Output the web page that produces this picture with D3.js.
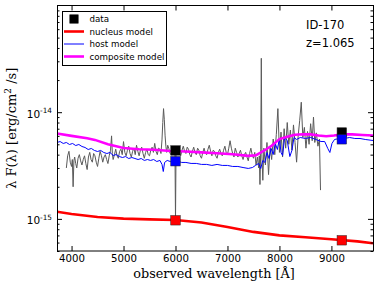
<!DOCTYPE html>
<html><head><meta charset="utf-8">
<script src="https://cdn.jsdelivr.net/npm/d3@7"></script>
<style>body{margin:0;background:#fff} svg{display:block}</style>
</head><body><svg id="c" width="383" height="287"></svg>
<script>
// all fluxes in units of 1e-15 erg/cm^2/s
const UNIT = 1e-15;
const xTicks = [4000, 5000, 6000, 7000, 8000, 9000];
const yMajor = [1e-15, 1e-14];
const yMajorExp = ["-15", "-14"];

// observed spectrum (gray)
const specWave = [3900,3925,3950,3975,4000,4015,4030,4045,4060,4080,4100,4125,4150,4175,4200,4225,4250,4275,4300,4325,4350,4375,4400,4425,4450,4475,4500,4525,4550,4575,4600,4625,4650,4675,4700,4725,4750,4770,4785,4800,4825,4850,4875,4900,4925,4950,4975,5000,5025,5050,5075,5100,5125,5150,5175,5200,5225,5250,5275,5300,5325,5350,5375,5400,5425,5450,5475,5500,5525,5550,5575,5600,5625,5650,5675,5700,5720,5740,5755,5770,5785,5800,5815,5830,5850,5870,5895,5920,5940,5960,5975,5990,6000,6010,6030,6050,6075,6100,6125,6150,6175,6200,6225,6250,6275,6300,6325,6350,6375,6400,6425,6450,6475,6500,6525,6550,6575,6600,6625,6650,6675,6700,6725,6750,6775,6800,6825,6850,6875,6900,6925,6950,6975,7000,7025,7050,7075,7100,7125,7150,7175,7200,7225,7250,7275,7300,7325,7350,7375,7400,7425,7450,7475,7500,7525,7550,7575,7600,7612,7625,7640,7651,7662,7680,7700,7730,7760,7790,7820,7850,7880,7910,7940,7970,8000,8030,8060,8090,8120,8150,8180,8210,8240,8270,8300,8330,8360,8390,8420,8450,8480,8510,8540,8570,8600,8630,8655,8680,8710,8740,8770,8790];
const specFlux = [3.0,3.9,4.3,3.4,3.1,3.6,2.0,3.5,3.8,3.3,3.0,3.7,4.0,3.5,3.2,3.6,3.9,3.3,2.9,3.8,4.2,3.6,3.4,4.1,3.9,3.4,3.1,3.7,4.3,3.9,3.4,3.8,4.0,3.6,3.3,3.9,4.4,6.0,4.1,3.6,4.0,4.5,3.9,3.7,4.3,4.5,4.0,5.3,4.2,3.9,4.4,4.8,4.1,3.8,4.3,4.6,4.0,4.9,4.3,3.9,4.4,4.7,4.1,3.7,4.2,4.5,4.0,3.9,4.4,4.7,4.2,5.1,4.3,4.0,4.6,4.5,4.1,5.5,8.0,10.8,8.5,6.0,4.8,4.2,4.9,4.6,4.1,4.0,4.7,4.5,4.0,4.2,0.98,4.3,4.8,4.6,4.2,3.9,4.4,4.8,4.3,4.1,4.7,4.5,4.0,3.8,4.3,4.7,4.2,4.0,4.6,4.4,3.9,3.7,4.2,4.6,4.1,4.0,4.5,4.9,4.3,3.9,4.4,4.3,3.9,3.7,4.2,4.5,4.1,3.9,4.4,4.8,4.2,4.0,4.6,5.4,4.6,4.1,3.8,4.6,4.2,3.8,4.1,4.4,3.9,3.6,4.0,4.2,3.8,3.5,4.1,4.6,4.0,3.7,4.2,3.2,3.8,3.0,3.9,2.1,4.5,32.0,4.0,2.3,4.6,3.2,5.2,2.6,4.8,3.6,5.6,4.0,6.2,10.8,4.2,6.5,3.8,7.0,4.6,8.0,5.0,6.8,4.4,7.6,5.2,3.4,6.0,8.4,12.4,5.8,7.2,4.6,6.6,5.0,7.8,5.4,9.0,5.2,6.4,4.8,5.6,1.86];

// host model (blue)
const hostWave = [3720,3780,3840,3900,3960,4020,4080,4140,4200,4260,4320,4380,4440,4500,4560,4620,4680,4740,4800,4860,4920,4980,5040,5100,5160,5220,5280,5340,5400,5460,5520,5580,5640,5700,5740,5765,5790,5840,5900,5960,6000,6060,6120,6200,6300,6400,6500,6600,6700,6800,6900,7000,7100,7200,7300,7400,7480,7540,7600,7640,7680,7720,7760,7800,7840,7880,7920,7960,8000,8030,8060,8100,8150,8200,8240,8280,8330,8400,8500,8600,8700,8800,8870,8930,8970,9010,9060,9150,9250,9350,9450,9550,9650,9800];
const hostFlux = [5.20,5.31,5.09,5.20,4.98,5.09,4.87,4.98,4.77,4.67,4.47,4.57,4.38,4.28,4.38,4.19,4.10,4.19,3.93,4.01,3.84,3.76,3.84,3.68,3.76,3.68,3.60,3.68,3.53,3.60,3.53,3.60,3.45,3.53,3.24,2.78,3.38,3.53,3.45,3.53,3.45,3.45,3.38,3.38,3.31,3.31,3.24,3.24,3.17,3.24,3.17,3.17,3.10,3.10,3.03,2.97,3.03,3.17,3.31,2.97,3.53,3.38,4.19,3.68,4.57,4.01,5.09,4.47,5.67,4.19,3.93,5.79,5.43,3.84,4.38,5.79,5.55,5.79,5.67,5.79,5.55,5.31,5.31,4.57,4.19,5.09,5.55,5.67,5.67,5.79,5.67,5.67,5.55,5.43];

// nucleus model (red)
const nucWave = [3720,4000,4500,5000,5500,6000,6500,7000,7500,8000,8500,9000,9500,9800];
const nucFlux = [1.165,1.11,1.04,1.005,0.99,0.975,0.925,0.84,0.755,0.70,0.672,0.645,0.615,0.59];

// composite model (magenta)
const compWave = [3720,4000,4300,4450,4700,5000,5300,5600,5900,6200,6500,6800,7100,7400,7550,7700,7850,8000,8150,8300,8450,8600,8750,8900,9050,9200,9400,9600,9800];
const compFlux = [6.31,6.0,5.7,5.5,5.0,4.62,4.5,4.45,4.33,4.28,4.2,4.12,4.03,3.9,3.95,4.35,4.85,5.6,5.9,6.15,6.22,6.2,6.05,5.95,6.05,6.2,6.2,6.12,6.05];

// photometric points
const photWave = [6000, 9200];
const dataPhot = [4.38, 6.45];
const hostPhot = [3.47, 5.57];
const nucPhot = [0.97, 0.63];

const legendItems = ["data", "nucleus model", "host model", "composite model"];
const idLabel = "ID-170";
const zLabel = "z=1.065";

const svg = d3.select("#c");
const L = 57, R = 373, T = 5.5, B = 251;
const x = d3.scaleLinear().domain([3720, 9800]).range([L, R]);
const y = d3.scaleLog().domain([5e-16, 1e-13]).range([B, T]);

svg.append("defs").append("clipPath").attr("id", "clip")
  .append("rect").attr("x", L).attr("y", T).attr("width", R - L).attr("height", B - T);

const plot = svg.append("g").attr("clip-path", "url(#clip)");
const line = d3.line().x(d => x(d[0])).y(d => y(d[1] * UNIT));
const zip = (a, b) => a.map((v, i) => [v, b[i]]);

plot.append("path").datum(zip(specWave, specFlux)).attr("d", line)
  .attr("fill", "none").attr("stroke", "#5a5a5a").attr("stroke-width", 1);
plot.append("path").datum(zip(hostWave, hostFlux)).attr("d", line)
  .attr("fill", "none").attr("stroke", "#0000ff").attr("stroke-width", 1);
plot.append("path").datum(zip(nucWave, nucFlux)).attr("d", line)
  .attr("fill", "none").attr("stroke", "#ff0000").attr("stroke-width", 2.6);
plot.append("path").datum(zip(compWave, compFlux)).attr("d", line)
  .attr("fill", "none").attr("stroke", "#ff00ff").attr("stroke-width", 2.6);

const SQ = 9.5;
function squares(vals, fill) {
  plot.selectAll(null).data(zip(photWave, vals)).enter().append("rect")
    .attr("x", d => x(d[0]) - SQ / 2).attr("y", d => y(d[1] * UNIT) - SQ / 2)
    .attr("width", SQ).attr("height", SQ)
    .attr("fill", fill).attr("stroke", "#222").attr("stroke-width", 0.5);
}
squares(dataPhot, "#000000");
squares(nucPhot, "#ff0000");
squares(hostPhot, "#0000ff");

// axes
const minor = [];
[-16, -15, -14].forEach(e => { for (let k = 2; k <= 9; k++) { const v = k * Math.pow(10, e); if (v >= 5e-16 && v < 1e-13) minor.push(v); } });

function xAxis(gen, ty) {
  svg.append("g").attr("transform", `translate(0,${ty})`)
    .call(gen(x).tickValues(xTicks).tickSize(-5).tickPadding(4).tickFormat(ty === B ? d3.format("d") : ""))
    .call(g => g.select(".domain").remove())
    .call(g => g.selectAll("line").attr("stroke", "#000"))
    .call(g => g.selectAll("text").attr("font-family", "DejaVu Sans").attr("font-size", 10.2).attr("fill", "#000"));
}
xAxis(d3.axisBottom, B);
xAxis(d3.axisTop, T);

function yAxis(gen, tx) {
  const g1 = svg.append("g").attr("transform", `translate(${tx},0)`)
    .call(gen(y).tickValues(yMajor).tickSize(-5).tickFormat(""));
  g1.select(".domain").remove();
  const g2 = svg.append("g").attr("transform", `translate(${tx},0)`)
    .call(gen(y).tickValues(minor).tickSize(-2.5).tickFormat(""));
  g2.select(".domain").remove();
}
yAxis(d3.axisLeft, L);
yAxis(d3.axisRight, R);

// y tick labels with superscripts
yMajor.forEach((v, i) => {
  const t = svg.append("text").attr("x", L - 5).attr("y", y(v) + 5.5)
    .attr("text-anchor", "end").attr("font-family", "DejaVu Sans").attr("font-size", 10.5);
  t.append("tspan").text("10");
  t.append("tspan").attr("font-size", 7.3).attr("dy", -4.5).text(yMajorExp[i]);
});

// frame
svg.append("rect").attr("x", L + 0.5).attr("y", T).attr("width", R - L).attr("height", B - T)
  .attr("fill", "none").attr("stroke", "#000").attr("stroke-width", 1);

// axis labels
svg.append("text").attr("x", (L + R) / 2 - 1).attr("y", 278).attr("text-anchor", "middle")
  .attr("font-family", "DejaVu Serif").attr("font-size", 12.8).text("observed wavelength [Å]");

const yl = svg.append("text").attr("transform", `translate(16,${(T + B) / 2}) rotate(-90)`)
  .attr("text-anchor", "middle").attr("font-family", "DejaVu Serif").attr("font-size", 13);
yl.append("tspan").text("λ F(λ) [erg/cm");
yl.append("tspan").attr("font-size", 9).attr("dy", -5.5).text("2");
yl.append("tspan").attr("dy", 5.5).text(" /s]");

// annotation
svg.append("text").attr("x", 306).attr("y", 28.5).attr("font-family", "DejaVu Sans").attr("font-size", 11.5).text(idLabel);
svg.append("text").attr("x", 306).attr("y", 47).attr("font-family", "DejaVu Sans").attr("font-size", 11.5).text(zLabel);

// legend
const lg = svg.append("g");
lg.append("rect").attr("x", 62.5).attr("y", 11.5).attr("width", 104).attr("height", 54)
  .attr("fill", "#fff").attr("stroke", "#000").attr("stroke-width", 1);
const rowY = [19, 31.5, 44, 56.5];
const styles = [
  {type: "sq", color: "#000"},
  {type: "line", color: "#ff0000", w: 2.6},
  {type: "line", color: "#0000ff", w: 1},
  {type: "line", color: "#ff00ff", w: 2.6}
];
legendItems.forEach((name, i) => {
  const s = styles[i], yy = rowY[i];
  if (s.type === "sq") {
    lg.append("rect").attr("x", 74 - 4.25).attr("y", yy - 4.25).attr("width", 8.5).attr("height", 8.5)
      .attr("fill", s.color).attr("stroke", "#222").attr("stroke-width", 0.5);
  } else {
    lg.append("line").attr("x1", 64).attr("x2", 84).attr("y1", yy).attr("y2", yy)
      .attr("stroke", s.color).attr("stroke-width", s.w);
  }
  lg.append("text").attr("x", 89.5).attr("y", yy + 3.3).attr("font-family", "DejaVu Sans")
    .attr("font-size", 8.7).text(name);
});
</script></body></html>
